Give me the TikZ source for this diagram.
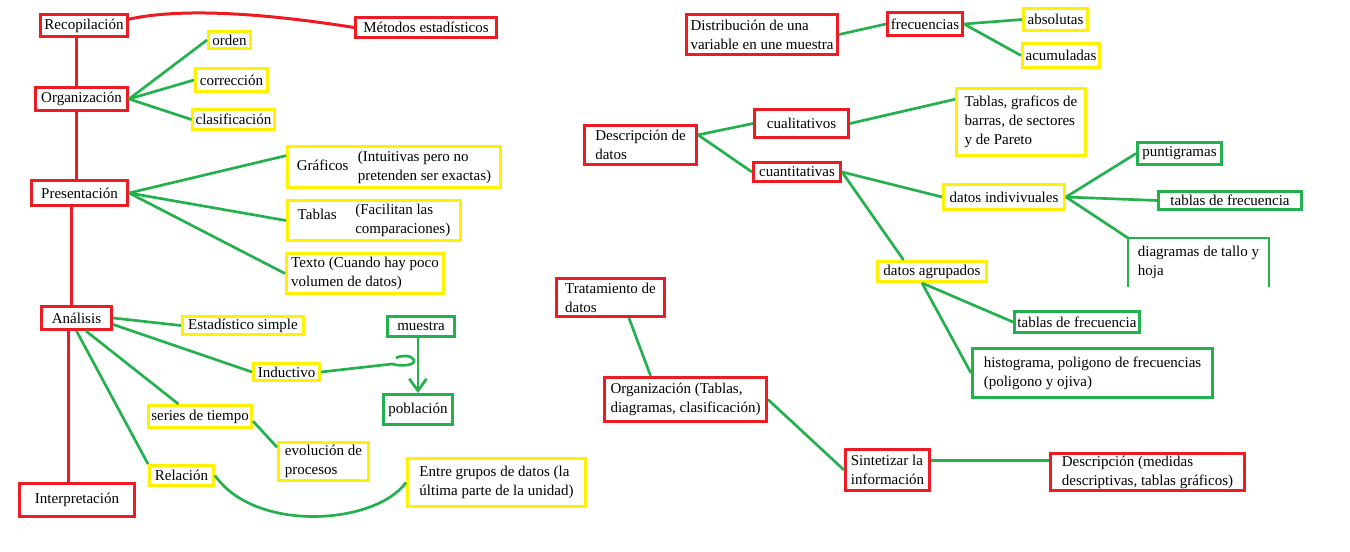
\documentclass[tikz,border=0pt]{standalone}
\usepackage{fontspec}
\setmainfont{Liberation Serif}
\usetikzlibrary{arrows.meta}
\definecolor{paintred}{RGB}{237,28,36}
\definecolor{paintyellow}{RGB}{255,242,0}
\definecolor{paintgreen}{RGB}{34,177,76}

% boxes: left/top/right/bottom (pixels) / name / text
\def\redBoxes{%
  {39/13/129/38/recop/{Recopilación}},%
  {354/16/498/39/metod/{Métodos estadísticos}},%
  {34/86/129/112/organ/{Organización}},%
  {30/179/129/207/pres/{Presentación}},%
  {40/305/113/331/anal/{Análisis}},%
  {18/482/136/518/interp/{Interpretación}},%
  {685/13/839/56/distr/{Distribución de una\\variable en une muestra}},%
  {886/11/964/37/frec/{frecuencias}},%
  {583/124/698/166/descr/{Descripción de\\datos}},%
  {753/108/850/139/cualit/{cualitativos}},%
  {752/161/842/183/cuantit/{cuantitativas}},%
  {555/277/666/318/tratam/{Tratamiento de\\datos}},%
  {603/376/768/423/organB/{Organización (Tablas,\\diagramas, clasificación)}},%
  {844/448/931/492/sintet/{Sintetizar la\\información}},%
  {1049/452/1246/492/descm/{Descripción (medidas\\descriptivas, tablas gráficos)}}}
\def\yellowBoxes{%
  {207/30/252/50/orden/{orden}},%
  {194/67/269/93/correc/{corrección}},%
  {194/108/273/131/clasif/{clasificación}},%
  {286/145/502/189/graf/{Gráficos\hspace{7pt}\begin{tabular}{@{}l@{}}(Intuitivas pero no\\pretenden ser exactas)\end{tabular}}},%
  {286/200/462/241/tabl/{\raisebox{3.5pt}{Tablas}\hspace{14pt}\begin{tabular}{@{}l@{}}(Facilitan las\\comparaciones)\end{tabular}}},%
  {285/252/445/295/texto/{Texto (Cuando hay poco\\volumen de datos)}},%
  {181/315/305/336/estad/{Estadístico simple}},%
  {252/362/321/382/induct/{Inductivo}},%
  {147/404/253/429/series/{series de tiempo}},%
  {277/441/370/482/evol/{evolución de\\procesos}},%
  {148/464/215/487/relac/{Relación}},%
  {406/457/587/508/entre/{Entre grupos de datos (la\\última parte de la unidad)}},%
  {1022/7/1089/32/absol/{absolutas}},%
  {1021/42/1101/69/acum/{acumuladas}},%
  {955/87/1087/157/tabgraf/{Tablas, graficos de\\barras, de sectores\\y de Pareto}},%
  {942/183/1066/211/indiv/{datos indivivuales}},%
  {876/260/988/283/agrup/{datos agrupados}}}
\def\greenBoxes{%
  {386/315/456/338/muestra/{muestra}},%
  {382/393/454/426/pobl/{población}},%
  {1136/141/1223/166/punti/{puntigramas}},%
  {1157/190/1303/211/tabfrA/{tablas de frecuencia}},%
  {1013/310/1141/334/tabfrB/{tablas de frecuencia}},%
  {971/347/1214/399/histo/{histograma, poligono de frecuencias\\(poligono y ojiva)}}}
% connections
\def\redDrops{recop.-120/organ, organ.-110/pres, pres.-120/anal, anal.-120/interp}
\def\greenEdges{organ.east/orden.west, organ.east/correc.west, organ.east/clasif.west,
  pres.east/graf.174, pres.east/tabl.west, pres.east/texto.west,
  anal.east/estad.west, anal.-10/induct.west, anal.-54/series.150, anal.south/relac.north west,
  series.-5/evol.163, distr.east/frec.west, frec.east/absol.west, frec.east/acum.west,
  descr.10/cualit.west, descr.10/cuantit.west, cualit.east/tabgraf.161,
  cuantit.east/indiv.west, cuantit.east/agrup.158, indiv.east/punti.west,
  indiv.east/tabfrA.west, indiv.east/diag.north west, agrup.-131/tabfrB.west,
  agrup.-131/histo.west, tratam.-48/organB.146, organB.east/sintet.west}

\tikzstyle{mapbox}=[rectangle, line width=2.25pt, inner xsep=2pt, inner ysep=1pt, align=left, font=\fontsize{11.25}{14.25}\selectfont]
\tikzstyle{red box}=[mapbox, draw=paintred]
\tikzstyle{yellow box}=[mapbox, draw=paintyellow]
\tikzstyle{green box}=[mapbox, draw=paintgreen]
\tikzstyle{red edge}=[draw, line width=2.25pt, paintred]
\tikzstyle{green edge}=[draw, line width=2pt, paintgreen]
\tikzset{pos box/.style n args={4}{at={({(#1+#3)/2},{(#2+#4)/2})},
  minimum width={(#3-#1-3)*0.75pt}, minimum height={(#4-#2-3)*0.75pt}}}

\begin{document}
\begin{tikzpicture}[x=0.75pt, y=-0.75pt]
  \useasboundingbox (0,0) rectangle (1350,552);

  % The boxes
  \foreach \xa/\ya/\xb/\yb/\name/\txt in \redBoxes {
    \node[red box, pos box={\xa}{\ya}{\xb}{\yb}] (\name) {\txt};
    }
  \foreach \xa/\ya/\xb/\yb/\name/\txt in \yellowBoxes {
    \node[yellow box, pos box={\xa}{\ya}{\xb}{\yb}] (\name) {\txt};
    }
  \foreach \xa/\ya/\xb/\yb/\name/\txt in \greenBoxes {
    \node[green box, pos box={\xa}{\ya}{\xb}{\yb}] (\name) {\txt};
    }

  % Open box at the bottom
  \node[mapbox, pos box={1128}{238}{1269}{287}] (diag) {diagramas de tallo y\\hoja};
  \path[green edge] (diag.south west) -- (diag.north west) -- (diag.north east) -- (diag.south east);

  % Red spine and the curve
  \foreach \source/\dest in \redDrops {
    \path[red edge] (\source) -- (\source |- \dest.north);
    }
  \path[red edge] (recop.8) .. controls (175,9) and (250,11) .. (metod.west);

  % Green connections
  \foreach \source/\sink in \greenEdges {
    \path[green edge] (\source) -- (\sink);
    }
  \path[green edge] (sintet.12) -- (sintet.12 -| descm.west);
  \path[green edge] (relac.east) .. controls (255,533) and (375,525) .. (entre.west);

  % Inductivo, muestra and poblacion
  \coordinate (hook) at (392,364);
  \path[green edge] (induct.east) -- (hook) .. controls (402,367) and (416,365) .. (414,360)
    .. controls (412,355) and (401,355) .. (396,358);
  \path[green edge, -{Straight Barb[length=9pt, width=13pt]}] (muestra.-105) -- (muestra.-105 |- pobl.north);
\end{tikzpicture}
\end{document}
